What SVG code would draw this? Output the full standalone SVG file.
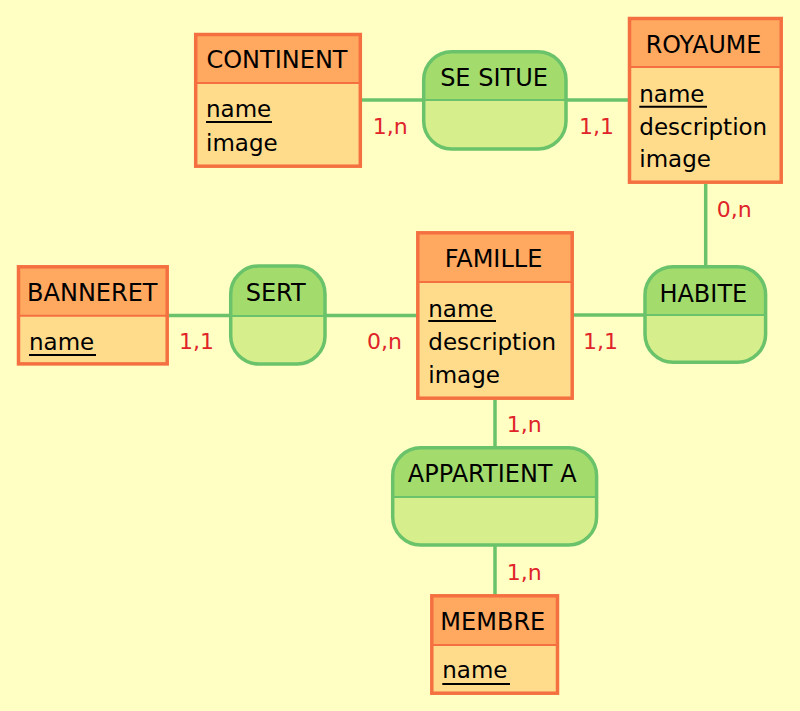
<svg xmlns="http://www.w3.org/2000/svg" width="800" height="711" viewBox="0 0 800 711">
<style>
.bg{fill:#ffffc4}
.ebody{fill:#ffdc8c;stroke:none}
.ehead{fill:#ffa860;stroke:none}
.eout{fill:none;stroke:#f57040;stroke-width:3.5}
.ediv{stroke:#f57040;stroke-width:2}
.rbody{fill:#d7ee8c;stroke:none}
.rhead{fill:#a3dc6c;stroke:none}
.rout{fill:none;stroke:#6ac36a;stroke-width:3.5}
.rdiv{stroke:#6ac36a;stroke-width:2}
.t{font-family:"DejaVu Sans","Verdana",sans-serif;font-size:23px;fill:#000}
.h{font-family:"DejaVu Sans","Verdana",sans-serif;font-size:24px;fill:#000;text-anchor:middle}
.ul{stroke:#000;stroke-width:2}
.lab{font-family:"DejaVu Sans",sans-serif;font-size:22px;fill:#e0242a}
.con line{stroke:#6ac36a;stroke-width:3.5}
</style>
<rect class="bg" x="0" y="0" width="800" height="711"/>

<g class="con" id="connectors">
<line x1="362" y1="100" x2="423" y2="100"/>
<line x1="566" y1="100" x2="628" y2="100"/>
<line x1="169" y1="315.5" x2="230" y2="315.5"/>
<line x1="325" y1="315.5" x2="417" y2="315.5"/>
<line x1="573" y1="315" x2="645" y2="315"/>
<line x1="705.7" y1="184" x2="705.7" y2="266"/>
<line x1="495" y1="400" x2="495" y2="447"/>
<line x1="495" y1="546" x2="495" y2="595"/>
<text class="lab" x="372.7" y="134">1,n</text>
<text class="lab" x="579" y="134">1,1</text>
<text class="lab" x="716.7" y="216.7">0,n</text>
<text class="lab" x="179" y="349">1,1</text>
<text class="lab" x="367" y="349">0,n</text>
<text class="lab" x="583" y="349">1,1</text>
<text class="lab" x="506.7" y="431.7">1,n</text>
<text class="lab" x="506.7" y="580">1,n</text>
</g>

<g id="continent">
<rect class="ebody" x="195.7" y="34.5" width="164.6" height="131.7"/>
<rect class="ehead" x="195.7" y="34.5" width="164.6" height="48.5"/>
<line class="ediv" x1="195.7" y1="83" x2="360.3" y2="83"/>
<rect class="eout" x="195.7" y="34.5" width="164.6" height="131.7"/>
<text class="h" x="277" y="68">CONTINENT</text>
<text class="t" x="206" y="117">name</text>
<line class="ul" x1="206" y1="122" x2="272" y2="122"/>
<text class="t" x="206" y="150.5">image</text>
</g>

<g id="royaume">
<rect class="ebody" x="629.5" y="18.5" width="151.7" height="163.7"/>
<rect class="ehead" x="629.5" y="18.5" width="151.7" height="48.5"/>
<line class="ediv" x1="629.5" y1="67" x2="781.2" y2="67"/>
<rect class="eout" x="629.5" y="18.5" width="151.7" height="163.7"/>
<text class="h" x="703.5" y="52.7" textLength="115.5" lengthAdjust="spacingAndGlyphs">ROYAUME</text>
<text class="t" x="639.3" y="101.7">name</text>
<line class="ul" x1="639.3" y1="106.7" x2="707" y2="106.7"/>
<text class="t" x="639.3" y="135">description</text>
<text class="t" x="639.3" y="167">image</text>
</g>

<g id="banneret">
<rect class="ebody" x="18.5" y="266.8" width="148.7" height="97.1"/>
<rect class="ehead" x="18.5" y="266.8" width="148.7" height="48.9"/>
<line class="ediv" x1="18.5" y1="315.7" x2="167.2" y2="315.7"/>
<rect class="eout" x="18.5" y="266.8" width="148.7" height="97.1"/>
<text class="h" x="92.3" y="301">BANNERET</text>
<text class="t" x="29" y="350">name</text>
<line class="ul" x1="29" y1="355" x2="96" y2="355"/>
</g>

<g id="famille">
<rect class="ebody" x="417.8" y="232.8" width="154.4" height="165.4"/>
<rect class="ehead" x="417.8" y="232.8" width="154.4" height="49.2"/>
<line class="ediv" x1="417.8" y1="282" x2="572.2" y2="282"/>
<rect class="eout" x="417.8" y="232.8" width="154.4" height="165.4"/>
<text class="h" x="493.5" y="267">FAMILLE</text>
<text class="t" x="428.3" y="317">name</text>
<line class="ul" x1="428.3" y1="321" x2="496" y2="321"/>
<text class="t" x="428.3" y="349.5">description</text>
<text class="t" x="428.3" y="383">image</text>
</g>

<g id="membre">
<rect class="ebody" x="431.8" y="595.8" width="125.7" height="97.4"/>
<rect class="ehead" x="431.8" y="595.8" width="125.7" height="49.2"/>
<line class="ediv" x1="431.8" y1="645" x2="557.5" y2="645"/>
<rect class="eout" x="431.8" y="595.8" width="125.7" height="97.4"/>
<text class="h" x="492.8" y="630">MEMBRE</text>
<text class="t" x="442.3" y="678">name</text>
<line class="ul" x1="442.3" y1="684" x2="510" y2="684"/>
</g>

<g id="se_situe">
<rect class="rbody" x="423.7" y="51.7" width="142.3" height="97.3" rx="28"/>
<path class="rhead" d="M423.7,100 V79.7 A28,28 0 0 1 451.7,51.7 H538 A28,28 0 0 1 566,79.7 V100 Z"/>
<line class="rdiv" x1="423.7" y1="100" x2="566" y2="100"/>
<rect class="rout" x="423.7" y="51.7" width="142.3" height="97.3" rx="28"/>
<text class="h" x="494" y="86">SE SITUE</text>
</g>

<g id="sert">
<rect class="rbody" x="230.7" y="266" width="94.3" height="98" rx="28"/>
<path class="rhead" d="M230.7,316 V294 A28,28 0 0 1 258.7,266 H297 A28,28 0 0 1 325,294 V316 Z"/>
<line class="rdiv" x1="230.7" y1="316" x2="325" y2="316"/>
<rect class="rout" x="230.7" y="266" width="94.3" height="98" rx="28"/>
<text class="h" x="275.7" y="301">SERT</text>
</g>

<g id="habite">
<rect class="rbody" x="645" y="266.7" width="120.6" height="95.6" rx="28"/>
<path class="rhead" d="M645,315 V294.7 A28,28 0 0 1 673,266.7 H737.6 A28,28 0 0 1 765.6,294.7 V315 Z"/>
<line class="rdiv" x1="645" y1="315" x2="765.6" y2="315"/>
<rect class="rout" x="645" y="266.7" width="120.6" height="95.6" rx="28"/>
<text class="h" x="703.3" y="301.7">HABITE</text>
</g>

<g id="appartient_a">
<rect class="rbody" x="392.7" y="447.7" width="203.9" height="97.3" rx="28"/>
<path class="rhead" d="M392.7,497 V475.7 A28,28 0 0 1 420.7,447.7 H568.6 A28,28 0 0 1 596.6,475.7 V497 Z"/>
<line class="rdiv" x1="392.7" y1="497" x2="596.6" y2="497"/>
<rect class="rout" x="392.7" y="447.7" width="203.9" height="97.3" rx="28"/>
<text class="h" x="492.2" y="481.7">APPARTIENT A</text>
</g>
</svg>
